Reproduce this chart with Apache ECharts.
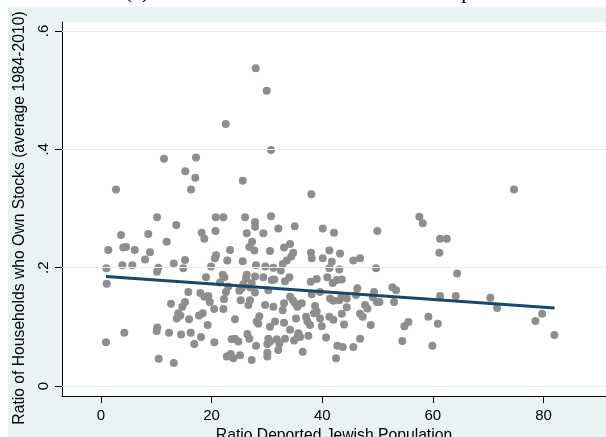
<!DOCTYPE html>
<html><head><meta charset="utf-8">
<script src="https://cdn.jsdelivr.net/npm/echarts@6/dist/echarts.min.js"></script>
<style>
html,body{margin:0;padding:0;background:#fff;}
#bg{position:absolute;left:8px;top:7px;width:598px;height:430px;background:#EAF2F3;}
#chart{position:absolute;left:0;top:0;width:606px;height:437px;}
</style>
</head><body>
<div id="bg"></div><div id="chart"></div>
<script>
// Ratio of deported Jewish population (x)
const deported = [
27.97,29.96,22.55,30.74,11.39,17.18,15.24,17.05,2.71,16.27,
25.62,38.03,10.13,20.74,22.12,26.04,30.74,27.85,74.68,57.56,
13.62,3.62,8.55,11.88,18.21,18.68,20.70,1.32,4.03,4.52,
6.09,8.86,7.96,3.85,5.66,0.96,13.15,15.19,14.88,10.36,
10.13,19.89,20.80,20.60,1.03,18.99,15.79,12.66,15.19,14.70,
13.98,13.69,14.34,15.91,17.96,18.68,19.40,19.66,20.45,17.72,
18.39,19.29,10.18,10.07,4.21,12.30,14.47,16.22,18.08,16.87,
20.49,0.90,10.43,13.15,27.85,29.35,32.06,35.03,26.35,27.31,
26.82,27.72,23.33,30.56,33.09,34.18,34.77,34.41,22.84,25.62,
28.03,29.71,31.16,32.86,33.58,32.50,22.01,22.30,26.35,26.22,
27.85,29.35,30.87,31.34,34.05,33.27,25.73,25.44,27.25,26.94,
23.02,22.60,21.52,27.85,25.01,30.25,34.18,34.67,35.08,22.24,
25.26,26.94,26.64,29.66,31.16,33.09,32.86,35.50,22.12,24.23,
28.63,28.16,28.44,31.46,33.09,35.26,30.56,34.18,35.68,35.99,
23.63,24.23,24.83,26.46,26.82,28.03,30.25,30.07,30.56,31.77,
32.24,33.27,34.90,35.50,32.06,22.73,23.45,23.92,25.14,27.25,
30.07,30.07,36.47,40.09,42.13,49.96,37.97,38.10,40.09,41.28,
43.22,41.72,41.28,43.09,45.62,46.84,49.73,37.92,39.01,40.92,
41.90,42.62,43.53,38.10,39.60,41.41,42.01,43.09,43.53,44.43,
46.35,46.11,49.37,49.86,50.33,49.13,36.29,37.07,37.31,37.79,
38.70,39.01,38.52,39.60,39.91,41.28,42.01,43.53,44.43,43.94,
46.84,47.32,47.74,48.16,48.77,37.49,40.69,42.73,43.71,42.50,
45.62,46.84,58.17,61.30,62.51,61.18,64.38,52.68,53.35,52.98,
61.30,64.14,59.19,60.89,54.85,55.57,54.48,59.91,70.40,71.61,
78.54,79.75,81.97
];
// Ratio of households who own stocks (y)
const stockShare = [
0.537,0.499,0.443,0.399,0.384,0.386,0.363,0.352,0.332,0.332,
0.347,0.324,0.285,0.285,0.285,0.285,0.287,0.277,0.332,0.286,
0.272,0.255,0.257,0.244,0.259,0.249,0.262,0.230,0.234,0.235,
0.230,0.226,0.214,0.204,0.204,0.199,0.207,0.213,0.199,0.200,
0.193,0.202,0.221,0.216,0.173,0.184,0.159,0.139,0.142,0.134,
0.123,0.114,0.119,0.113,0.157,0.151,0.152,0.142,0.130,0.119,
0.123,0.103,0.099,0.093,0.090,0.090,0.087,0.090,0.083,0.071,
0.074,0.074,0.046,0.039,0.269,0.258,0.266,0.270,0.258,0.244,
0.235,0.229,0.230,0.228,0.234,0.240,0.225,0.219,0.212,0.211,
0.204,0.202,0.200,0.206,0.212,0.195,0.188,0.184,0.188,0.182,
0.185,0.184,0.179,0.180,0.184,0.177,0.172,0.165,0.174,0.167,
0.168,0.159,0.175,0.158,0.161,0.162,0.151,0.145,0.140,0.147,
0.145,0.145,0.137,0.137,0.134,0.140,0.128,0.134,0.130,0.113,
0.118,0.109,0.105,0.109,0.107,0.114,0.100,0.095,0.089,0.083,
0.079,0.080,0.075,0.088,0.080,0.068,0.080,0.071,0.075,0.079,
0.072,0.080,0.077,0.083,0.061,0.050,0.054,0.047,0.052,0.044,
0.056,0.050,0.058,0.266,0.259,0.262,0.225,0.216,0.216,0.229,
0.224,0.210,0.199,0.197,0.212,0.216,0.199,0.176,0.181,0.184,
0.174,0.179,0.180,0.155,0.159,0.148,0.144,0.145,0.152,0.148,
0.165,0.154,0.159,0.142,0.142,0.150,0.140,0.117,0.109,0.103,
0.135,0.126,0.123,0.114,0.101,0.117,0.112,0.122,0.133,0.104,
0.122,0.117,0.137,0.131,0.103,0.085,0.082,0.068,0.066,0.047,
0.066,0.080,0.275,0.249,0.249,0.225,0.190,0.167,0.162,0.142,
0.152,0.152,0.117,0.105,0.101,0.108,0.076,0.068,0.149,0.132,
0.110,0.122,0.086
];
// Linear fit end points
const fitX = [0.9, 82.0];
const fitY = [0.185, 0.132];
// Axis ticks
const xTicks = [0, 20, 40, 60, 80];
const yTicks = [0, 0.2, 0.4, 0.6];
const yTickLabels = ['0', '.2', '.4', '.6'];
const caption = '(a) Holocaust and Stock Market Participation';
const xTitle = 'Ratio Deported Jewish Population';
const yTitle = 'Ratio of Households who Own Stocks (average 1984-2010)';

const points = deported.map((x, i) => [x, stockShare[i]]);
const fitData = fitX.map((x, i) => [x, fitY[i]]);
const FONT = '"Liberation Sans", Arial, sans-serif';

const chart = echarts.init(document.getElementById('chart'), null, {renderer: 'canvas'});
chart.setOption({
  backgroundColor: 'transparent',
  animation: false,
  grid: {left: 62, right: 0, top: 22, bottom: 41, show: true, backgroundColor: '#ffffff', borderWidth: 0,
         containLabel: false, outerBoundsMode: 'none'},
  graphic: [{
    type: 'text', x: 125, y: -8, silent: true,
    style: {text: caption, font: '21.5px "Liberation Serif", "Times New Roman", serif', fill: '#000', align: 'left', verticalAlign: 'middle'}
  }],
  xAxis: {
    type: 'value', min: -7.05, max: 91.3,
    axisLine: {show: true, onZero: false, lineStyle: {color: '#000', width: 1}},
    axisTick: {show: true, customValues: xTicks, length: 7, lineStyle: {color: '#000', width: 1}},
    axisLabel: {customValues: xTicks, color: '#000', fontSize: 15, fontFamily: FONT, margin: 12},
    splitLine: {show: false},
    name: xTitle, nameLocation: 'middle', nameGap: 27,
    nameTextStyle: {color: '#000', fontSize: 15.7, fontFamily: FONT}
  },
  yAxis: {
    type: 'value', min: -0.0169, max: 0.6152,
    axisLine: {show: true, onZero: false, lineStyle: {color: '#000', width: 1}},
    axisTick: {show: true, customValues: yTicks, length: 7, lineStyle: {color: '#000', width: 1}},
    axisLabel: {
      customValues: yTicks, rotate: 90, color: '#000', fontSize: 15, fontFamily: FONT, margin: 11,
      formatter: v => { const i = yTicks.findIndex(t => Math.abs(t - v) < 1e-6); return i >= 0 ? yTickLabels[i] : ''; }
    },
    splitLine: {show: false},
    name: yTitle, nameLocation: 'middle', nameGap: 27, nameRotate: 90,
    nameTextStyle: {color: '#000', fontSize: 15.7, fontFamily: FONT, padding: [0, 18, 0, 0]}
  },
  series: [
    {
      type: 'line', data: [], z: 1, silent: true,
      markLine: {
        silent: true, symbol: ['none', 'none'], label: {show: false}, animation: false,
        lineStyle: {color: '#E4EEF0', width: 1, type: 'solid'},
        data: yTicks.map(v => ({yAxis: v}))
      }
    },
    {
      type: 'scatter', data: points, symbol: 'circle', symbolSize: 8, z: 2,
      itemStyle: {color: '#8E8E8E', opacity: 1}
    },
    {
      type: 'line', data: fitData, showSymbol: false, symbol: 'none', z: 3,
      lineStyle: {color: '#1A476F', width: 3}
    }
  ]
});
</script>
</body></html>
